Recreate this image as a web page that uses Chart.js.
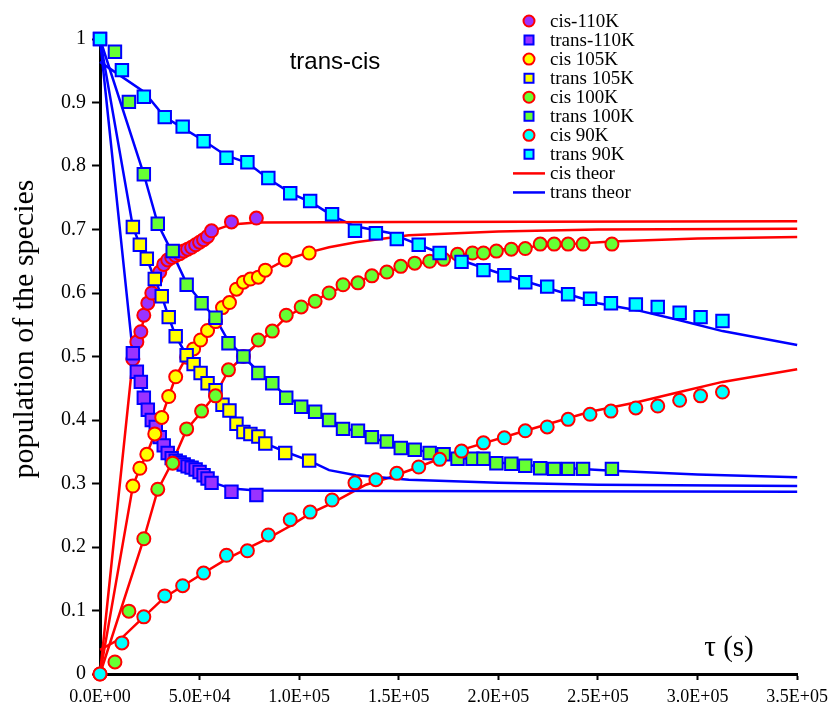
<!DOCTYPE html>
<html>
<head>
<meta charset="utf-8">
<script src="https://cdn.jsdelivr.net/npm/chart.js@4.4.1/dist/chart.umd.min.js"></script>
<style>
  body { margin: 0; background: #fff; }
  #wrap { width: 834px; height: 711px; }
</style>
</head>
<body>
<div id="wrap"><canvas id="myChart" width="834" height="711"></canvas></div>
<script>
// measured points, time in s
var t110 = [16500, 18500, 20500, 22000, 24000, 26000, 28000, 30000, 32000, 34000, 36000, 38000, 40000, 42000, 44000, 46000, 48000, 50000, 52000, 54000, 56000, 66000, 78500];
var cis110 = [0.496, 0.523, 0.539, 0.565, 0.584, 0.600, 0.622, 0.633, 0.645, 0.652, 0.656, 0.659, 0.662, 0.666, 0.669, 0.672, 0.676, 0.680, 0.684, 0.689, 0.698, 0.712, 0.718];
var trans110 = [0.505, 0.476, 0.460, 0.435, 0.416, 0.400, 0.389, 0.373, 0.360, 0.348, 0.340, 0.336, 0.333, 0.330, 0.327, 0.325, 0.322, 0.318, 0.313, 0.308, 0.301, 0.287, 0.282];

var t105 = [16500, 20000, 23500, 27500, 31000, 34500, 38000, 43500, 47000, 50500, 54000, 58000, 61500, 65000, 68500, 72000, 75500, 79500, 83000, 93000, 105000];
var cis105 = [0.296, 0.324, 0.346, 0.378, 0.404, 0.437, 0.468, 0.499, 0.512, 0.526, 0.541, 0.555, 0.577, 0.585, 0.606, 0.617, 0.622, 0.625, 0.636, 0.652, 0.663];
var trans105 = [0.704, 0.676, 0.654, 0.622, 0.595, 0.562, 0.532, 0.502, 0.488, 0.474, 0.458, 0.447, 0.424, 0.415, 0.394, 0.381, 0.378, 0.374, 0.363, 0.348, 0.336];

var t100 = [0, 7500, 14500, 22000, 29000, 36500, 43500, 51000, 58000, 64500, 72000, 79500, 86500, 93500, 101000, 108000, 115000, 122000, 129500, 136500, 144000, 151000, 158000, 165500, 172500, 179500, 187000, 192500, 199000, 206500, 213500, 221000, 228000, 235000, 242500, 257000];
var cis100 = [0, 0.019, 0.099, 0.213, 0.291, 0.332, 0.386, 0.414, 0.438, 0.479, 0.500, 0.526, 0.540, 0.565, 0.578, 0.587, 0.600, 0.613, 0.616, 0.627, 0.633, 0.642, 0.647, 0.650, 0.653, 0.661, 0.663, 0.663, 0.666, 0.669, 0.670, 0.677, 0.677, 0.677, 0.677, 0.677];
var trans100 = [1.0, 0.980, 0.901, 0.787, 0.709, 0.666, 0.613, 0.584, 0.561, 0.521, 0.500, 0.474, 0.458, 0.435, 0.421, 0.413, 0.400, 0.386, 0.383, 0.373, 0.366, 0.356, 0.353, 0.348, 0.346, 0.339, 0.339, 0.339, 0.332, 0.331, 0.328, 0.324, 0.323, 0.323, 0.323, 0.323];

var t90 = [0, 11000, 22000, 32500, 41500, 52000, 63500, 74000, 84500, 95500, 105500, 116500, 128000, 138500, 149000, 160000, 170500, 181500, 192500, 203000, 213500, 224500, 235000, 246000, 256500, 269000, 280000, 291000, 301500, 312500];
var cis90 = [0, 0.049, 0.090, 0.123, 0.139, 0.159, 0.187, 0.194, 0.219, 0.243, 0.255, 0.274, 0.301, 0.306, 0.316, 0.326, 0.338, 0.351, 0.364, 0.372, 0.383, 0.389, 0.401, 0.409, 0.414, 0.419, 0.422, 0.431, 0.438, 0.444];
var trans90 = [1.0, 0.951, 0.909, 0.877, 0.862, 0.839, 0.813, 0.806, 0.781, 0.757, 0.745, 0.724, 0.698, 0.694, 0.685, 0.676, 0.663, 0.649, 0.636, 0.628, 0.617, 0.610, 0.598, 0.591, 0.584, 0.582, 0.578, 0.569, 0.562, 0.556];

// theory curves
var th110 = [0, 16500, 18500, 20500, 22500, 25000, 27500, 30000, 35000, 40000, 50000, 56000, 66000, 78500, 150000, 350000];
var cisTh110 = [0, 0.496, 0.520, 0.540, 0.565, 0.590, 0.615, 0.633, 0.652, 0.662, 0.680, 0.697, 0.708, 0.711, 0.712, 0.713];
var transTh110 = [1.0, 0.505, 0.480, 0.460, 0.437, 0.410, 0.390, 0.372, 0.350, 0.335, 0.318, 0.302, 0.292, 0.289, 0.288, 0.287];

var th105 = [0, 16500, 20000, 23500, 27500, 31000, 34500, 38000, 43500, 47000, 50500, 54000, 58000, 61500, 65000, 68500, 72000, 75500, 79500, 83000, 93000, 105000, 115000, 128500, 155000, 200000, 250000, 350000];
var cisTh105 = [0, 0.296, 0.324, 0.347, 0.378, 0.405, 0.437, 0.468, 0.500, 0.512, 0.526, 0.541, 0.555, 0.575, 0.587, 0.603, 0.615, 0.621, 0.627, 0.635, 0.652, 0.664, 0.672, 0.680, 0.691, 0.697, 0.700, 0.701];
var transTh105 = [1.0, 0.704, 0.676, 0.654, 0.622, 0.595, 0.562, 0.532, 0.502, 0.488, 0.474, 0.458, 0.447, 0.426, 0.415, 0.396, 0.383, 0.378, 0.372, 0.363, 0.350, 0.336, 0.321, 0.313, 0.306, 0.301, 0.298, 0.296];

var th100 = [0, 22000, 29000, 36500, 43500, 51000, 58000, 64500, 72000, 79500, 86500, 93500, 101000, 108000, 115000, 122000, 129500, 136500, 144000, 151000, 165500, 179500, 200000, 225000, 257000, 300000, 350000];
var cisTh100 = [0, 0.213, 0.290, 0.335, 0.385, 0.413, 0.440, 0.478, 0.500, 0.522, 0.540, 0.562, 0.576, 0.588, 0.600, 0.610, 0.618, 0.627, 0.633, 0.640, 0.650, 0.659, 0.668, 0.675, 0.681, 0.686, 0.688];
var transTh100 = [1.0, 0.787, 0.709, 0.662, 0.615, 0.585, 0.560, 0.524, 0.500, 0.476, 0.458, 0.437, 0.422, 0.411, 0.400, 0.389, 0.380, 0.372, 0.365, 0.358, 0.349, 0.341, 0.333, 0.326, 0.320, 0.314, 0.310];

var thCis90x = [0, 11000, 22000, 32500, 52000, 63500, 74000, 84500, 95500, 105500, 116500, 133500, 145000, 160000, 181500, 213500, 246000, 269500, 291000, 312500, 350000];
var cisTh90 = [0.038, 0.057, 0.090, 0.121, 0.159, 0.181, 0.198, 0.214, 0.233, 0.253, 0.269, 0.298, 0.309, 0.326, 0.353, 0.383, 0.413, 0.428, 0.444, 0.460, 0.480];
var thTrans90x = [0, 22000, 32500, 41500, 52500, 63000, 74000, 84500, 96000, 106500, 117000, 128000, 145000, 170500, 203500, 235000, 250000, 269500, 291000, 312500, 350000];
var transTh90 = [0.964, 0.917, 0.877, 0.860, 0.839, 0.817, 0.805, 0.780, 0.757, 0.742, 0.721, 0.705, 0.695, 0.663, 0.628, 0.598, 0.584, 0.573, 0.557, 0.540, 0.518];

var legendLabels = ['cis-110K', 'trans-110K', 'cis 105K', 'trans 105K', 'cis 100K', 'trans 100K', 'cis 90K', 'trans 90K', 'cis theor', 'trans theor'];
var xTickLabels = ['0.0E+00', '5.0E+04', '1.0E+05', '1.5E+05', '2.0E+05', '2.5E+05', '3.0E+05', '3.5E+05'];
var yTickLabels = ['0', '0.1', '0.2', '0.3', '0.4', '0.5', '0.6', '0.7', '0.8', '0.9', '1'];

var RED = '#ff0000';
var BLUE = '#0000ff';

function pts(xs, ys) {
  var out = [];
  for (var i = 0; i < xs.length; i++) {
    out.push({x: xs[i], y: ys[i]});
  }
  return out;
}

function markers(label, xs, ys, shape, fill, edge, ord) {
  return {
    label: label,
    data: pts(xs, ys),
    showLine: false,
    pointStyle: shape,
    pointRadius: shape === 'circle' ? 6.5 : 8.8,
    pointBackgroundColor: fill,
    pointBorderColor: edge,
    pointBorderWidth: 2,
    order: ord,
    clip: false
  };
}

function curve(label, xs, ys, color) {
  return {
    label: label,
    data: pts(xs, ys),
    showLine: true,
    borderColor: color,
    borderWidth: 2.5,
    pointRadius: 0,
    tension: 0,
    fill: false,
    order: 50,
    clip: false
  };
}

var datasets = [
  markers(legendLabels[0], t110, cis110, 'circle', '#9933ff', RED, 8),
  markers(legendLabels[1], t110, trans110, 'rect', '#9933ff', BLUE, 7),
  markers(legendLabels[2], t105, cis105, 'circle', '#ffff00', RED, 6),
  markers(legendLabels[3], t105, trans105, 'rect', '#ffff00', BLUE, 5),
  markers(legendLabels[4], t100, cis100, 'circle', '#66ff33', RED, 4),
  markers(legendLabels[5], t100, trans100, 'rect', '#66ff33', BLUE, 3),
  markers(legendLabels[6], t90, cis90, 'circle', '#00ffff', RED, 2),
  markers(legendLabels[7], t90, trans90, 'rect', '#00ffff', BLUE, 1),
  curve(legendLabels[8], th110, cisTh110, RED),
  curve(legendLabels[9], th110, transTh110, BLUE),
  curve(legendLabels[8], th105, cisTh105, RED),
  curve(legendLabels[9], th105, transTh105, BLUE),
  curve(legendLabels[8], th100, cisTh100, RED),
  curve(legendLabels[9], th100, transTh100, BLUE),
  curve(legendLabels[8], thCis90x, cisTh90, RED),
  curve(legendLabels[9], thTrans90x, transTh90, BLUE)
];

// legend, inner title and axis names drawn on the canvas
var extraText = {
  id: 'extraText',
  afterDraw: function(chart) {
    var ctx = chart.ctx;
    ctx.save();
    ctx.fillStyle = '#000';
    ctx.textBaseline = 'middle';

    // legend
    ctx.font = '19px "Liberation Serif"';
    for (var i = 0; i < legendLabels.length; i++) {
      var y = 21 + i * 19.05;
      var ds = chart.data.datasets[i];
      if (i < 8) {
        ctx.beginPath();
        ctx.lineWidth = 2;
        ctx.fillStyle = ds.pointBackgroundColor;
        ctx.strokeStyle = ds.pointBorderColor;
        if (ds.pointStyle === 'circle') {
          ctx.arc(529, y, 5.5, 0, Math.PI * 2);
        } else {
          ctx.rect(524.5, y - 4.5, 9, 9);
        }
        ctx.fill();
        ctx.stroke();
      } else {
        ctx.beginPath();
        ctx.lineWidth = 2.5;
        ctx.strokeStyle = ds.borderColor;
        ctx.moveTo(513, y);
        ctx.lineTo(545, y);
        ctx.stroke();
      }
      ctx.fillStyle = '#000';
      ctx.textAlign = 'left';
      ctx.fillText(legendLabels[i], 550, y + 1);
    }

    ctx.font = '24px "Liberation Sans"';
    ctx.textAlign = 'center';
    ctx.fillText('trans-cis', 335, 62);

    ctx.font = '29px "Liberation Serif"';
    ctx.fillText('\u03c4 (s)', 729, 648);

    ctx.translate(25, 329);
    ctx.rotate(-Math.PI / 2);
    ctx.font = '30px "Liberation Serif"';
    ctx.fillText('population of the species', 0, 0);
    ctx.restore();
  }
};

Chart.defaults.font.family = '"Liberation Serif"';
Chart.defaults.color = '#000';

var ctx = document.getElementById('myChart');
var chart = new Chart(ctx, {
  type: 'scatter',
  data: { datasets: datasets },
  plugins: [extraText],
  options: {
    responsive: false,
    devicePixelRatio: 1,
    animation: false,
    events: [],
    layout: { padding: { top: 39, right: 34, left: 0, bottom: 0 } },
    plugins: {
      legend: { display: false },
      tooltip: { enabled: false }
    },
    scales: {
      x: {
        type: 'linear',
        min: 0,
        max: 350000,
        afterFit: function(scale) { scale.height = 37; },
        border: { display: true, color: '#000', width: 3 },
        grid: { drawOnChartArea: false, drawTicks: true, tickLength: 6, tickColor: '#000', tickWidth: 2 },
        ticks: {
          stepSize: 50000,
          autoSkip: false,
          maxRotation: 0,
          padding: 6,
          font: { size: 18 },
          callback: function(value) { return xTickLabels[Math.round(value / 50000)]; }
        }
      },
      y: {
        type: 'linear',
        min: 0,
        max: 1,
        afterFit: function(scale) { scale.width = 100; },
        border: { display: true, color: '#000', width: 3 },
        grid: { drawOnChartArea: false, drawTicks: true, tickLength: 8, tickColor: '#000', tickWidth: 2 },
        ticks: {
          stepSize: 0.1,
          padding: 6,
          font: { size: 20 },
          callback: function(value) { return yTickLabels[Math.round(value * 10)]; }
        }
      }
    }
  }
});
</script>
</body>
</html>
